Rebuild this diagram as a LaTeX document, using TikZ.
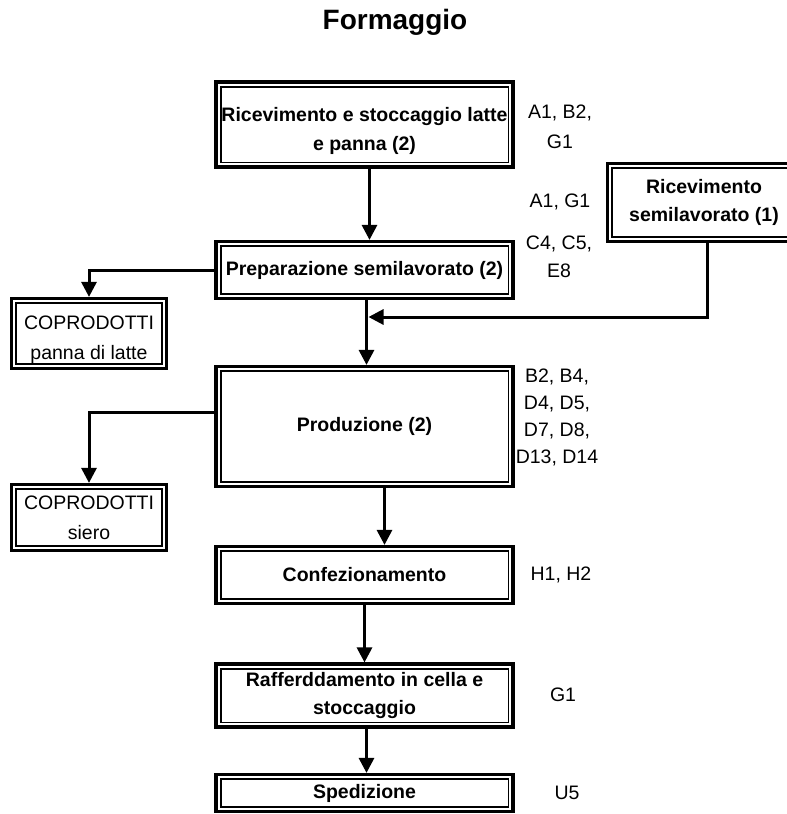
\documentclass[tikz,border=0pt]{standalone}
\usepackage{fontspec}
\setmainfont{Liberation Sans}
\usetikzlibrary{arrows.meta}

\tikzset{
  dbox/.style={draw, line width=3.2pt, inner sep=0pt, align=center,
    font={\fontsize{19.5}{28}\selectfont\bfseries},
    path picture={\draw[line width=1.8pt]
      ([shift={(4.6pt,-4.6pt)}]path picture bounding box.north west) rectangle
      ([shift={(-4.6pt,4.6pt)}]path picture bounding box.south east);}},
  stepbox/.style={dbox, minimum width=297pt},
  cobox/.style={dbox, minimum width=155pt,
    font={\fontsize{19.5}{30}\selectfont}},
  note/.style={align=center, inner sep=0pt,
    font={\fontsize{19.5}{28}\selectfont}},
  flow/.style={line width=3pt, -{Triangle[width=15pt,length=15pt]}}
}

\begin{document}
\begin{tikzpicture}[x=1pt, y=-1pt]

\useasboundingbox (0,0) rectangle (787,814);

\node [font={\fontsize{28}{28}\selectfont\bfseries}] (title) at (395, 22) {Formaggio};

% main column
\node [stepbox, minimum height=85pt] (r1) at (364.5, 124.5)
  {\rule{0pt}{27pt}Ricevimento e stoccaggio latte\\[1pt] e panna (2)};
\node [stepbox, minimum height=57pt] (r2) at (364.5, 270) {Preparazione semilavorato (2)};
\node [stepbox, minimum height=120pt] (r3) at (364.5, 426.5) {Produzione (2)};
\node [stepbox, minimum height=57pt] (r4) at (364.5, 575) {Confezionamento};
\node [stepbox, minimum height=63pt] (r5) at (364.5, 695.5)
  {Rafferddamento in cella e\\ stoccaggio};
\node [stepbox, minimum height=37pt] (r6) at (364.5, 793) {Spedizione};

% side boxes
\node [dbox, minimum width=193pt, minimum height=78pt] (s1) at (704, 202.5)
  {Ricevimento\\ semilavorato (1)};
\node [cobox, minimum height=70pt] (c1) at (89, 333.5)
  {\rule{0pt}{26pt}COPRODOTTI\\ panna di latte};
\node [cobox, minimum height=66pt] (c2) at (89, 517.5) {COPRODOTTI\\ siero};

% codes
\node [note, font={\fontsize{19.5}{30}\selectfont}] (n1) at (560, 127) {A1, B2,\\ G1};
\node [note] (n2) at (560, 202) {A1, G1};
\node [note] (n3) at (559, 256.5) {C4, C5,\\ E8};
\node [note, font={\fontsize{19.5}{27}\selectfont}] (n4) at (557, 417)
  {B2, B4,\\ D4, D5,\\ D7, D8,\\ D13, D14};
\node [note] (n5) at (561, 575) {H1, H2};
\node [note] (n6) at (563, 695) {G1};
\node [note] (n7) at (567, 793) {U5};

\coordinate (merge) at (368.5, 317);

\draw [flow] ([xshift=5pt]r1.south) -- ([xshift=5pt]r2.north);
\draw [flow] ([xshift=2pt]r2.south) -- ([xshift=2pt]r3.north);
\draw [flow] ([xshift=3pt]s1.south) |- (merge);
\draw [flow] (r2.west) -| (c1.north);
\draw [flow] ([yshift=14.5pt]r3.west) -| (c2.north);
\draw [flow] ([xshift=20pt]r3.south) -- ([xshift=20pt]r4.north);
\draw [flow] (r4.south) -- (r5.north);
\draw [flow] ([xshift=2pt]r5.south) -- ([xshift=2pt]r6.north);

\end{tikzpicture}
\end{document}
